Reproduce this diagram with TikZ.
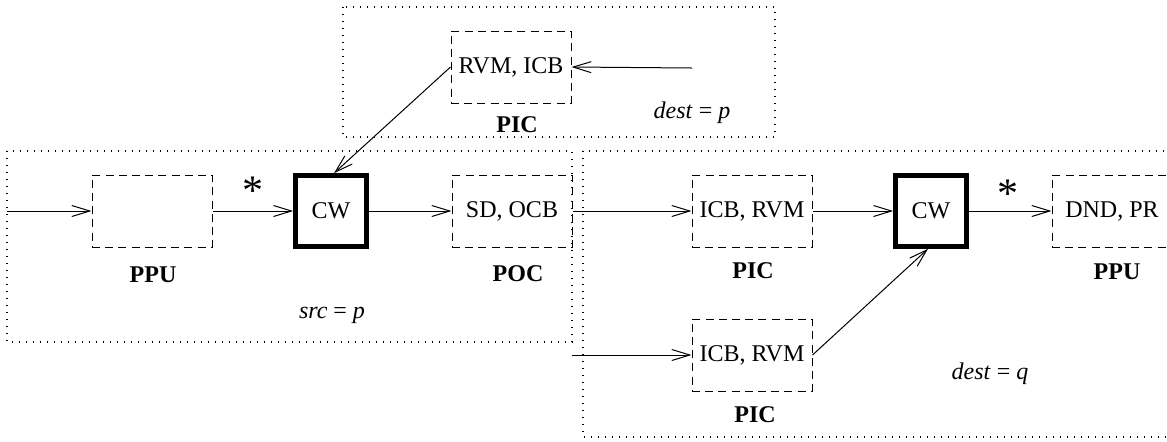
\documentclass[tikz,border=0pt]{standalone}
\usepackage{fontspec}
\setmainfont{Liberation Serif}
\usetikzlibrary{arrows.meta}
\tikzset{
  base/.style={font=\fontsize{12}{14}\selectfont},
  dbox/.style={base, draw, dash pattern=on 4pt off 2.6pt, line width=0.5pt,
    minimum width=60pt, minimum height=36pt, inner sep=0pt},
  cwbox/.style={base, draw, line width=2.3pt, minimum width=35.5pt, minimum height=35.5pt, inner sep=0pt},
  region/.style={draw, line width=0.6pt, dash pattern=on 0.6pt off 2.9pt},
  lab/.style={base, anchor=base, font=\fontsize{12}{14}\selectfont\bfseries},
  note/.style={base, anchor=base},
  star/.style={anchor=base, font=\fontsize{21}{21}\selectfont, inner sep=0pt},
  conn/.style={line width=0.5pt, -{Straight Barb[length=9pt,width=5.5pt,line width=0.5pt]}}
}
\begin{document}
\begin{tikzpicture}[x=0.5pt, y=-0.5pt]
\useasboundingbox (0,0) rectangle (1167,441);
\clip (0,0) rectangle (1167,441);
% regions
\draw[region] (343,7) rectangle (775,137);
\draw[region] (7,151) rectangle (572,342);
\draw[region] (583,151) rectangle (1200,437);
% nodes
\node[dbox] (rvm) at (511,67) {RVM, ICB};
\node[dbox] (ppu1) at (152,211) {};
\node[cwbox] (cw1) at (331,211) {CW};
\node[dbox] (sd) at (512,211) {SD, OCB};
\node[dbox] (icb1) at (752,211) {ICB, RVM};
\node[cwbox] (cw2) at (931,211) {CW};
\node[dbox] (dnd) at (1112,211) {DND, PR};
\node[dbox] (icb2) at (752,355) {ICB, RVM};
\coordinate (in1) at (7,211);
\coordinate (in2) at (572,355);
\coordinate (inp) at (692,68);
% labels
\node[lab] (l1) at (517,132) {PIC};
\node[note] (n1) at (692,118) {\textit{dest} = \textit{p}};
\node[lab] (l2) at (153,282) {PPU};
\node[lab] (l3) at (518,281) {POC};
\node[note] (n2) at (332,318) {\textit{src} = \textit{p}};
\node[lab] (l4) at (753,278) {PIC};
\node[lab] (l5) at (1117,279) {PPU};
\node[lab] (l6) at (755,422) {PIC};
\node[note] (n3) at (990,379) {\textit{dest} = \textit{q}};
\node[star] (s1) at (253,204) {*};
\node[star] (s2) at (1008,207) {*};
% connectors
\draw[conn] (in1) -- (ppu1);
\draw[conn] (ppu1) -- (cw1);
\draw[conn] (cw1) -- (sd);
\draw[conn] (sd) -- (icb1);
\draw[conn] (icb1) -- (cw2);
\draw[conn] (cw2) -- (dnd);
\draw[conn] (in2) -- (icb2);
\draw[conn] (icb2.east) -- ([xshift=-1.5pt]cw2.south);
\draw[conn] (rvm.west) -- ([xshift=1.5pt]cw1.north);
\draw[conn] (inp) -- (rvm.east);
\end{tikzpicture}
\end{document}
